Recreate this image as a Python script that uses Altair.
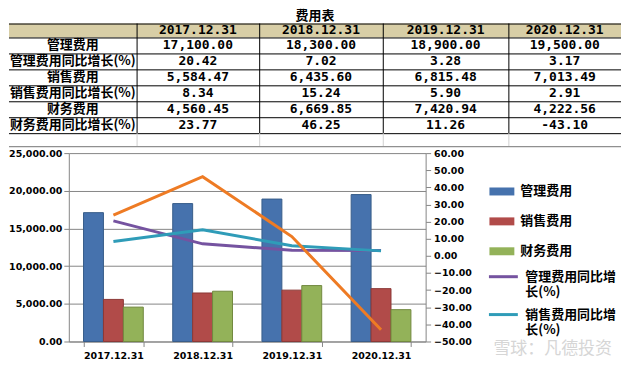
import altair as alt
import pandas as pd

# ---------------- data ----------------
years = ["2017.12.31", "2018.12.31", "2019.12.31", "2020.12.31"]
mgmt_cost = [17100.00, 18300.00, 18900.00, 19500.00]
mgmt_yoy = [20.42, 7.02, 3.28, 3.17]
sales_cost = [5584.47, 6435.60, 6815.48, 7013.49]
sales_yoy = [8.34, 15.24, 5.90, 2.91]
fin_cost = [4560.45, 6669.85, 7420.94, 4222.56]
fin_yoy = [23.77, 46.25, 11.26, -43.10]

table_title = "费用表"
row_labels = ["管理费用", "管理费用同比增长(%)", "销售费用",
              "销售费用同比增长(%)", "财务费用", "财务费用同比增长(%)"]
bar_names = ["管理费用", "销售费用", "财务费用"]
line_names = ["管理费用同比增长(%)", "销售费用同比增长(%)", "财务费用同比增长(%)"]
left_ticks = [0, 5000, 10000, 15000, 20000, 25000]
right_ticks = [-50, -40, -30, -20, -10, 0, 10, 20, 30, 40, 50, 60]
watermark = "雪球：凡德投资"

# ---------------- style ----------------
bar_fill = ["#4672ad", "#b14b49", "#93b259"]
bar_edge = ["#385d8a", "#8c3836", "#71893f"]
line_colors = ["#7553a0", "#2f9cb8", "#ee7b24"]
header_bg = "#d8cea6"
grid_gray = "#868686"
CJK = "Noto Sans CJK SC"
MONO = "DejaVu Sans Mono"
LATIN = "DejaVu Sans"

# ---------------- table layout ----------------
col_widths = [128, 123, 124, 126, 113]
title_h, header_h, row_h, blank_h = 15, 14, 16, 13
LEFT = 60  # how far the table reaches left of the plot origin below it
TW = sum(col_widths)
TH = title_h + header_h + row_h * 6 + blank_h + 1
edges = [sum(col_widths[:i]) for i in range(len(col_widths) + 1)]
centers = [(edges[i] + edges[i + 1]) / 2 for i in range(len(col_widths))]
header_top = title_h
header_bot = title_h + header_h
row_lines = [header_bot + row_h * k for k in range(7)]
table_bot = row_lines[-1]
blank_bot = table_bot + blank_h

row_values = [mgmt_cost, mgmt_yoy, sales_cost, sales_yoy, fin_cost, fin_yoy]
is_amount = [True, False, True, False, True, False]

cjk_cells, num_cells = [], []
cjk_cells.append({"t": table_title, "x": TW / 2, "y": 7.5})
for j, yr in enumerate(years):
    num_cells.append({"t": yr, "x": centers[j + 1], "y": (header_top + header_bot) / 2})
for i, lab in enumerate(row_labels):
    yc = header_bot + row_h * i + row_h / 2
    cjk_cells.append({"t": lab, "x": centers[0], "y": yc})
    for j, v in enumerate(row_values[i]):
        txt = f"{v:,.2f}" if is_amount[i] else f"{v:.2f}"
        num_cells.append({"t": txt, "x": centers[j + 1], "y": yc})

hlines = [{"x": 0, "x2": TW, "y": yy + 0.5} for yy in [header_top] + row_lines]
vlines = [{"x": e + 0.5, "y": header_top, "y2": table_bot} for e in edges[1:-1]]
vlight = [{"x": e + 0.5, "y": table_bot, "y2": blank_bot} for e in edges[1:-1]]
bottom_line = [{"x": 0, "x2": TW, "y": blank_bot + 0.5}]
header_rect = [{"x": 0, "x2": TW, "y": header_top, "y2": header_bot}]

tx = alt.Scale(domain=[0, TW], range=[-LEFT, TW - LEFT], nice=False, zero=False)
ty = alt.Scale(domain=[0, TH], nice=False, zero=False, reverse=True)


def X(f):
    return alt.X(f, type="quantitative", scale=tx, axis=None)


def Y(f):
    return alt.Y(f, type="quantitative", scale=ty, axis=None)


t_rect = alt.Chart(pd.DataFrame(header_rect)).mark_rect(color=header_bg).encode(
    x=X("x"), x2="x2", y=Y("y"), y2="y2")
t_h = alt.Chart(pd.DataFrame(hlines)).mark_rule(color="black", strokeWidth=1).encode(
    x=X("x"), x2="x2", y=Y("y"))
t_v = alt.Chart(pd.DataFrame(vlines)).mark_rule(color="black", strokeWidth=1).encode(
    x=X("x"), y=Y("y"), y2="y2")
t_vl = alt.Chart(pd.DataFrame(vlight)).mark_rule(color="#d0d0d0", strokeWidth=1).encode(
    x=X("x"), y=Y("y"), y2="y2")
t_b = alt.Chart(pd.DataFrame(bottom_line)).mark_rule(color="#909090", strokeWidth=1.5).encode(
    x=X("x"), x2="x2", y=Y("y"))
t_cjk = alt.Chart(pd.DataFrame(cjk_cells)).mark_text(
    font=CJK, fontWeight="bold", fontSize=13, color="black",
    align="center", baseline="middle").encode(x=X("x"), y=Y("y"), text="t:N")
t_num = alt.Chart(pd.DataFrame(num_cells)).mark_text(
    font=MONO, fontWeight="bold", fontSize=13, color="black",
    align="center", baseline="middle").encode(x=X("x"), y=Y("y"), text="t:N")

table = alt.layer(t_rect, t_h, t_v, t_vl, t_b, t_cjk, t_num).properties(
    width=TW - LEFT, height=TH)

# ---------------- combo chart ----------------
W, H = 358, 189
bar_rows = []
for name, vals in zip(bar_names, [mgmt_cost, sales_cost, fin_cost]):
    for yr, v in zip(years, vals):
        bar_rows.append({"year": yr, "series": name, "value": v})
line_rows = []
for name, vals in zip(line_names, [mgmt_yoy, sales_yoy, fin_yoy]):
    for yr, v in zip(years, vals):
        line_rows.append({"year": yr, "series": name, "pct": v})

axis_common = dict(labelFont=LATIN, labelFontWeight="bold", labelFontSize=9.5,
                   labelColor="black", domainColor=grid_gray, tickColor=grid_gray,
                   tickSize=5, title=None)

x_enc = alt.X("year:N", sort=years,
              scale=alt.Scale(paddingInner=0.33, paddingOuter=0.165),
              axis=alt.Axis(labelAngle=0, tickBand="extent", labelPadding=4,
                            grid=False, **axis_common))

bars = alt.Chart(pd.DataFrame(bar_rows)).mark_bar(strokeWidth=1).encode(
    x=x_enc,
    xOffset=alt.XOffset("series:N", sort=bar_names,
                        scale=alt.Scale(paddingInner=0, paddingOuter=0)),
    y=alt.Y("value:Q", scale=alt.Scale(domain=[0, 25000], nice=False),
            axis=alt.Axis(values=left_ticks, format=",.2f", grid=True,
                          gridColor=grid_gray, labelPadding=2, **axis_common)),
    fill=alt.Fill("series:N", sort=bar_names,
                  scale=alt.Scale(domain=bar_names, range=bar_fill),
                  legend=alt.Legend(title=None, orient="none", legendX=W + 64, legendY=26,
                                    symbolType="M-1,-0.32H1V0.32H-1Z", symbolSize=625,
                                    symbolStrokeWidth=0, labelFont=CJK, labelFontSize=13,
                                    labelFontWeight="bold", labelColor="black",
                                    labelOffset=6, rowPadding=10, padding=0)),
    stroke=alt.Stroke("series:N", scale=alt.Scale(domain=bar_names, range=bar_edge),
                      legend=None),
)

lines = alt.Chart(pd.DataFrame(line_rows)).mark_line(strokeWidth=3).encode(
    x=alt.X("year:N", sort=years),
    y=alt.Y("pct:Q", scale=alt.Scale(domain=[-50, 60], nice=False),
            axis=alt.Axis(orient="right", values=right_ticks, format=".2f", grid=False,
                          labelPadding=3, **axis_common)),
    stroke=alt.Stroke("series:N", sort=line_names,
                      scale=alt.Scale(domain=line_names, range=line_colors),
                      legend=alt.Legend(title=None, orient="none", legendX=W + 62, legendY=108,
                                        values=line_names[:2], symbolType="stroke",
                                        symbolSize=841, symbolStrokeWidth=3,
                                        labelExpr="[substring(datum.label, 0, 7), substring(datum.label, 7)]",
                                        labelLimit=300, labelFont=CJK, labelFontSize=13,
                                        labelFontWeight="bold", labelColor="black",
                                        labelOffset=6, rowPadding=0, padding=0)),
)

wm = alt.Chart(pd.DataFrame({"t": [watermark]})).mark_text(
    font=CJK, fontSize=17, color="#d6d6d6", align="left", baseline="middle").encode(
    text="t:N", x=alt.value(W + 68), y=alt.value(H + 8))

combo = alt.layer(bars, lines, wm).resolve_scale(
    y="independent", stroke="independent").properties(width=W, height=H)

chart = alt.vconcat(table, combo, spacing=0).resolve_scale(
    fill="independent", stroke="independent"
).resolve_legend(fill="independent", stroke="independent").properties(
    padding={"left": 0, "top": 0, "right": 0, "bottom": 0}
).configure_view(stroke=None)

chart.save("out.html", embed_options={"renderer": "svg", "actions": False})
